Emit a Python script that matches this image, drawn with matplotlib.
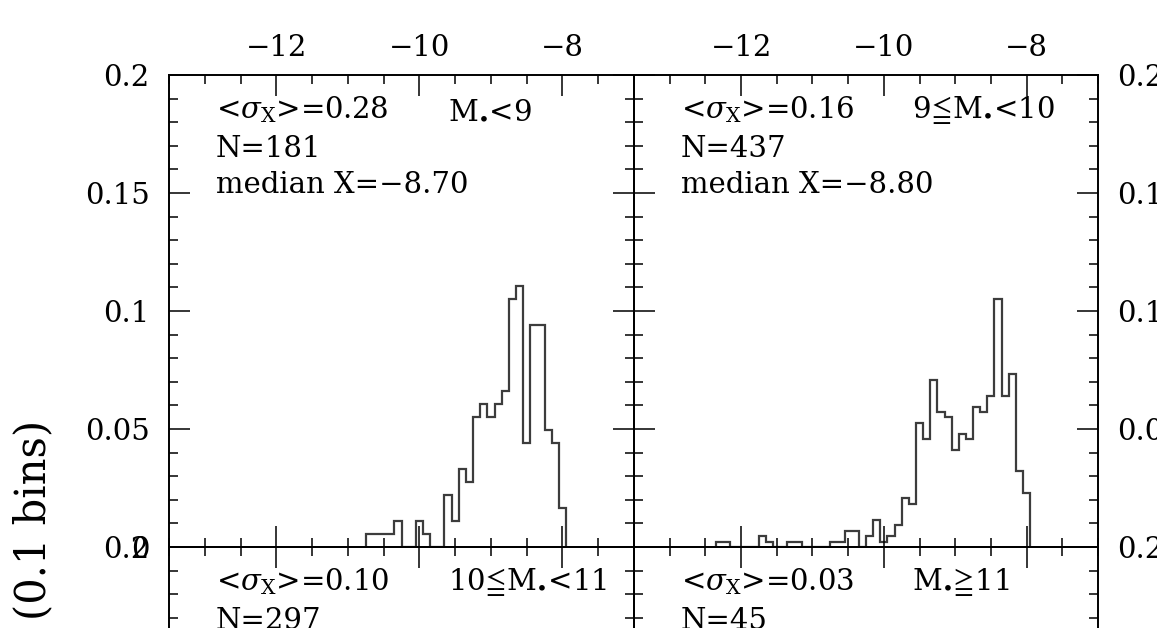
import numpy as np
import matplotlib
matplotlib.use("Agg")
import matplotlib.pyplot as plt
from matplotlib.ticker import FixedLocator, MultipleLocator, FixedFormatter

plt.rcParams['font.family'] = ['DejaVu Serif', 'DejaVu Sans']
plt.rcParams['mathtext.fontset'] = 'dejavuserif'

# ---------------- data ----------------
bin_width = 0.1

# panel 1: M* < 9
low_first_edge = -10.75
low_counts = [1, 1, 1, 1, 2, 0, 0, 2, 1, 0, 0, 4, 2, 6, 5, 10, 11, 10, 11, 12,
              19, 20, 8, 17, 17, 9, 8, 3]
low_N = 181

# panel 2: 9 <= M* < 10
mid_first_edge = -12.35
mid_counts = [1, 1, 0, 0, 0, 0, 2, 1, 0, 0, 1, 1, 0, 0, 0, 0, 1, 1, 3, 3,
              0, 2, 5, 1, 2, 4, 9, 8, 23, 20, 31, 25, 24, 18, 21, 20, 26, 25, 28, 46,
              28, 32, 14, 10]
mid_N = 437

panel_sigma = ["0.28", "0.16", "0.10", "0.03"]
panel_N = [181, 437, 297, 45]
panel_mass = [r"M$_{\bullet}$<9", r"9$\!\leqq\!$M$_{\bullet}$<10",
              r"10$\!\leqq\!$M$_{\bullet}$<11", r"M$_{\bullet}\!\geqq\!$11"]
panel_median = ["\u22128.70", "\u22128.80", None, None]

x_major = [-12, -10, -8]
x_labels = ["\u221212", "\u221210", "\u22128"]
y_major = [0, 0.05, 0.1, 0.15, 0.2]
y_labels = ["0", "0.05", "0.1", "0.15", "0.2"]
y_labels_right_top = ["", "0.05", "0.1", "0.15", "0.2"]

# ---------------- figure ----------------
W, H = 1157, 628
fig = plt.figure(figsize=(W / 100, H / 100), dpi=100)
fig.patch.set_facecolor("white")


def px_axes(x0, x1, y0, y1):
    return fig.add_axes([x0 / W, 1 - y1 / H, (x1 - x0) / W, (y1 - y0) / H])


ax_tl = px_axes(169, 634, 75, 547)
ax_tr = px_axes(634, 1098, 75, 547)
ax_bl = px_axes(169, 634, 547, 1019)
ax_br = px_axes(634, 1098, 547, 1019)
axes = [ax_tl, ax_tr, ax_bl, ax_br]

FS = 21
for i, ax in enumerate(axes):
    top = i < 2
    left = i % 2 == 0
    ax.set_xlim(-13.5, -7.0)
    ax.set_ylim(0, 0.2)
    ax.xaxis.set_major_locator(FixedLocator(x_major))
    ax.xaxis.set_major_formatter(FixedFormatter(x_labels))
    ax.xaxis.set_minor_locator(MultipleLocator(0.5))
    ax.yaxis.set_major_locator(FixedLocator(y_major))
    if (not left) and top:
        ax.yaxis.set_major_formatter(FixedFormatter(y_labels_right_top))
    else:
        ax.yaxis.set_major_formatter(FixedFormatter(y_labels))
    ax.yaxis.set_minor_locator(MultipleLocator(0.01))
    ax.tick_params(which='both', direction='in', top=True, bottom=True,
                   left=True, right=True, colors='black', width=1.1)
    ax.tick_params(which='major', length=15)
    ax.tick_params(which='minor', length=6.5)
    ax.tick_params(axis='x', labeltop=top, labelbottom=False, labelsize=FS, pad=9)
    ax.tick_params(axis='y', labelleft=left, labelright=not left, labelsize=FS, pad=14)
    for sp in ax.spines.values():
        sp.set_linewidth(1.4)
        sp.set_color('black')
    ax.set_facecolor('none')

# histograms
low_edges = low_first_edge + bin_width * np.arange(len(low_counts) + 1)
mid_edges = mid_first_edge + bin_width * np.arange(len(mid_counts) + 1)
ax_tl.stairs(np.array(low_counts) / low_N, low_edges, color='#3c3c3c', lw=1.6)
ax_tr.stairs(np.array(mid_counts) / mid_N, mid_edges, color='#3c3c3c', lw=1.6)

# annotations
y1, y2, y3 = 0.909, 0.826, 0.750
for i, ax in enumerate(axes):
    kw = dict(transform=ax.transAxes, fontsize=FS, va='baseline', ha='left')
    ax.text(0.101, y1, r"<$\sigma_{\mathrm{X}}$>=" + panel_sigma[i], **kw)
    ax.text(0.600, y1, panel_mass[i], **kw)
    ax.text(0.101, y2, "N=%d" % panel_N[i], **kw)
    if panel_median[i] is not None:
        ax.text(0.101, y3, "median X=" + panel_median[i], **kw)

fig.text(33 / W, 1 - 420 / H, "(0.1 bins)", rotation=90, ha='center', va='top',
         fontsize=30)

fig.savefig("out.png", dpi=100)
